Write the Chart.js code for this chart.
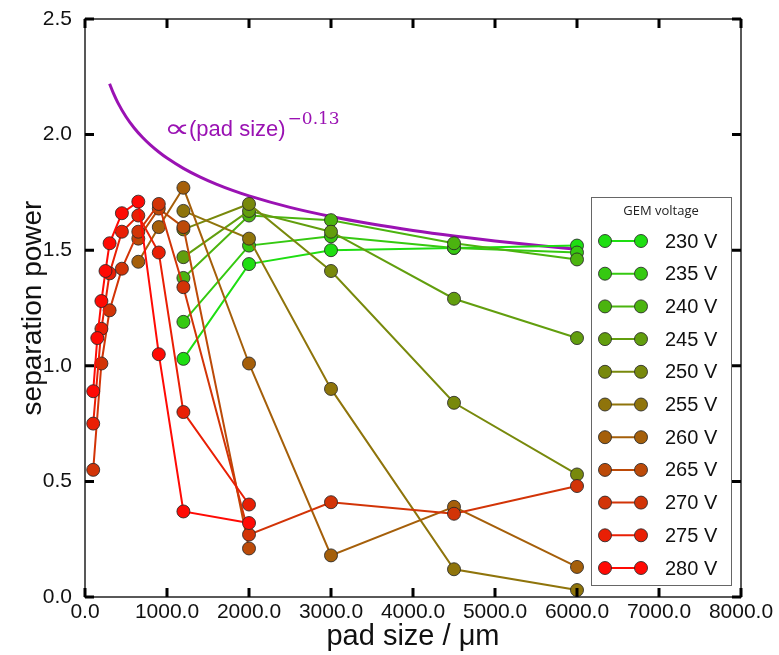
<!DOCTYPE html>
<html lang="en">
<head>
<meta charset="utf-8">
<title>Separation power vs pad size</title>
<style>
  html, body { margin: 0; padding: 0; background: #fff; }
</style>
</head>
<body>
<canvas id="sepChart" width="779" height="655"></canvas>
<script src="https://cdn.jsdelivr.net/npm/chart.js"></script>
<script>
// GEM voltages, one curve each
var voltages = [230, 235, 240, 245, 250, 255, 260, 265, 270, 275, 280];

// pad sizes (um) scanned at each voltage
var padsLow = [1200, 2000, 3000, 4500, 6000];          // 230 ... 255 V
var pads260 = [650, 900, 1200, 2000, 3000, 4500, 6000];
var pads265 = [650, 900, 1200, 2000];
var pads270 = [100, 200, 300, 450, 650, 900, 1200, 2000, 3000, 4500, 6000];
var pads275 = [100, 200, 300, 450, 650, 900, 1200, 2000];
var pads280 = [100, 150, 200, 250, 300, 450, 650, 900, 1200, 2000];

// separation power
var sep230 = [1.03, 1.44, 1.50, 1.51, 1.52];
var sep235 = [1.19, 1.52, 1.56, 1.51, 1.49];
var sep240 = [1.38, 1.65, 1.63, 1.53, 1.46];
var sep245 = [1.47, 1.67, 1.58, 1.29, 1.12];
var sep250 = [1.59, 1.70, 1.41, 0.84, 0.53];
var sep255 = [1.67, 1.55, 0.90, 0.12, 0.03];
var sep260 = [1.45, 1.60, 1.77, 1.01, 0.18, 0.39, 0.13];
var sep265 = [1.55, 1.68, 1.60, 0.21];
var sep270 = [0.55, 1.01, 1.24, 1.42, 1.58, 1.70, 1.34, 0.27, 0.41, 0.36, 0.48];
var sep275 = [0.75, 1.16, 1.40, 1.58, 1.65, 1.49, 0.80, 0.40];
var sep280 = [0.89, 1.12, 1.28, 1.41, 1.53, 1.66, 1.71, 1.05, 0.37, 0.32];

// power-law guide, as written in its label
var fitExponent = -0.13;
var fitNorm = 4.66;
var fitPads = [300, 350, 400, 500, 600, 700, 800, 900, 1000, 1200, 1400, 1600, 1800, 2000,
               2500, 3000, 3500, 4000, 4500, 5000, 5500, 6000];

var seriesPads = [padsLow, padsLow, padsLow, padsLow, padsLow, padsLow, pads260, pads265, pads270, pads275, pads280];
var seriesSep = [sep230, sep235, sep240, sep245, sep250, sep255, sep260, sep265, sep270, sep275, sep280];

// green (low voltage) to red (high voltage)
function voltColour(i) {
    var t = i / (voltages.length - 1);
    var r = Math.round(30 + 225 * t);
    var g = Math.round(222 - 212 * t);
    var b = Math.round(18 - 14 * t);
    return 'rgb(' + r + ',' + g + ',' + b + ')';
}

var datasets = [];
for (var i = 0; i < voltages.length; i++) {
    var pts = [];
    for (var j = 0; j < seriesPads[i].length; j++) {
        pts.push({x: seriesPads[i][j], y: seriesSep[i][j]});
    }
    datasets.push({
        label: voltages[i] + ' V',
        data: pts,
        borderColor: voltColour(i),
        backgroundColor: voltColour(i),
        borderWidth: 2,
        pointRadius: 6.5,
        pointBorderWidth: 1,
        pointBorderColor: 'rgba(40,40,40,0.85)',
        pointBackgroundColor: voltColour(i),
        order: voltages.length - i
    });
}

var fitPts = fitPads.map(function (p) { return {x: p, y: fitNorm * Math.pow(p, fitExponent)}; });
datasets.push({
    label: 'fit',
    data: fitPts,
    borderColor: '#9a12b3',
    borderWidth: 3,
    pointRadius: 0,
    cubicInterpolationMode: 'monotone',
    order: 20,
    isGuide: true
});

var purple = '#9a12b3';

// frame, inward ticks, legend box and the power-law label
var decorations = {
    id: 'decorations',
    afterDatasetsDraw: function (chart) {
        var ctx = chart.ctx;
        var a = chart.chartArea;
        var xs = chart.scales.x, ys = chart.scales.y;
        ctx.save();

        // frame
        ctx.strokeStyle = '#222';
        ctx.lineWidth = 1.5;
        ctx.strokeRect(a.left, a.top, a.right - a.left, a.bottom - a.top);

        // ticks pointing into the plot on all four sides
        ctx.strokeStyle = '#000';
        ctx.lineWidth = 3;
        var len = 9;
        ctx.beginPath();
        xs.ticks.forEach(function (t) {
            var px = xs.getPixelForValue(t.value);
            ctx.moveTo(px, a.bottom); ctx.lineTo(px, a.bottom - len);
            ctx.moveTo(px, a.top); ctx.lineTo(px, a.top + len);
        });
        ys.ticks.forEach(function (t) {
            var py = ys.getPixelForValue(t.value);
            ctx.moveTo(a.left, py); ctx.lineTo(a.left + len, py);
            ctx.moveTo(a.right, py); ctx.lineTo(a.right - len, py);
        });
        ctx.stroke();

        // power-law label; the proportional sign is stretched a little wider
        ctx.fillStyle = purple;
        ctx.textBaseline = 'alphabetic';
        ctx.textAlign = 'left';
        ctx.save();
        ctx.translate(164, 137);
        ctx.scale(1.4, 1);
        ctx.font = '26px "DejaVu Sans"';
        ctx.fillText('\u221d', 0, 0);
        ctx.restore();
        ctx.font = '22px "Liberation Sans"';
        ctx.fillText('(pad size)', 189, 136);
        var w2 = ctx.measureText('(pad size)').width;
        ctx.font = '17px "DejaVu Serif"';
        ctx.fillText('\u22120.13', 191 + w2, 124);

        // legend
        var lx = 591, ly = 197, lw = 140, lh = 388;
        ctx.fillStyle = '#fff';
        ctx.fillRect(lx, ly, lw, lh);
        ctx.strokeStyle = '#666';
        ctx.lineWidth = 1;
        ctx.strokeRect(lx + 0.5, ly + 0.5, lw, lh);
        ctx.fillStyle = '#222';
        ctx.textAlign = 'center';
        ctx.textBaseline = 'middle';
        ctx.font = '13px "Open Sans"';
        ctx.fillText('GEM voltage', lx + lw / 2, ly + 14);

        var rows = chart.data.datasets.filter(function (d) { return !d.isGuide; });
        rows.forEach(function (d, k) {
            var y = 241 + k * 32.7;
            ctx.strokeStyle = d.borderColor;
            ctx.lineWidth = 2;
            ctx.beginPath();
            ctx.moveTo(605, y); ctx.lineTo(641, y);
            ctx.stroke();
            [605, 641].forEach(function (cx) {
                ctx.beginPath();
                ctx.arc(cx, y, 6.5, 0, Math.PI * 2);
                ctx.fillStyle = d.pointBackgroundColor;
                ctx.fill();
                ctx.strokeStyle = 'rgba(40,40,40,0.85)';
                ctx.lineWidth = 1;
                ctx.stroke();
            });
            ctx.fillStyle = '#111';
            ctx.textAlign = 'left';
            ctx.font = '20px "Liberation Sans"';
            ctx.fillText(d.label, 665, y + 1);
        });
        ctx.restore();
    }
};

var tickFont = {family: '"Liberation Sans"', size: 21};
var titleFont = {family: '"Liberation Sans"', size: 28};

var sepChart = new Chart(document.getElementById('sepChart').getContext('2d'), {
    type: 'line',
    data: {datasets: datasets},
    options: {
        responsive: false,
        animation: false,
        devicePixelRatio: 1,
        layout: {padding: {left: 0, right: 38, top: 19, bottom: 0}},
        plugins: {
            legend: {display: false},
            tooltip: {enabled: false}
        },
        scales: {
            x: {
                type: 'linear',
                min: 0,
                max: 8000,
                afterFit: function (s) { s.height = 58; },
                grid: {display: false, drawTicks: false},
                border: {display: false},
                ticks: {
                    stepSize: 1000,
                    padding: 3,
                    color: '#111',
                    font: tickFont,
                    maxRotation: 0,
                    autoSkip: false,
                    callback: function (v) { return v.toFixed(1); }
                },
                title: {
                    display: true,
                    text: 'pad size / \u03bcm',
                    color: '#111',
                    font: {family: '"Liberation Sans"', size: 29},
                    padding: {top: 0, bottom: 1}
                }
            },
            y: {
                min: 0,
                max: 2.5,
                afterFit: function (s) {
                    s.width = 85;
                    // let the layout padding alone decide the top edge
                    s.paddingTop = 0;
                    s.paddingBottom = 0;
                },
                grid: {display: false, drawTicks: false},
                border: {display: false},
                ticks: {
                    stepSize: 0.5,
                    padding: 13,
                    color: '#111',
                    font: tickFont,
                    callback: function (v) { return v.toFixed(1); }
                },
                title: {
                    display: true,
                    text: 'separation power',
                    color: '#111',
                    font: titleFont,
                    padding: {top: 16, bottom: 0}
                }
            }
        }
    },
    plugins: [decorations]
});
</script>
</body>
</html>
